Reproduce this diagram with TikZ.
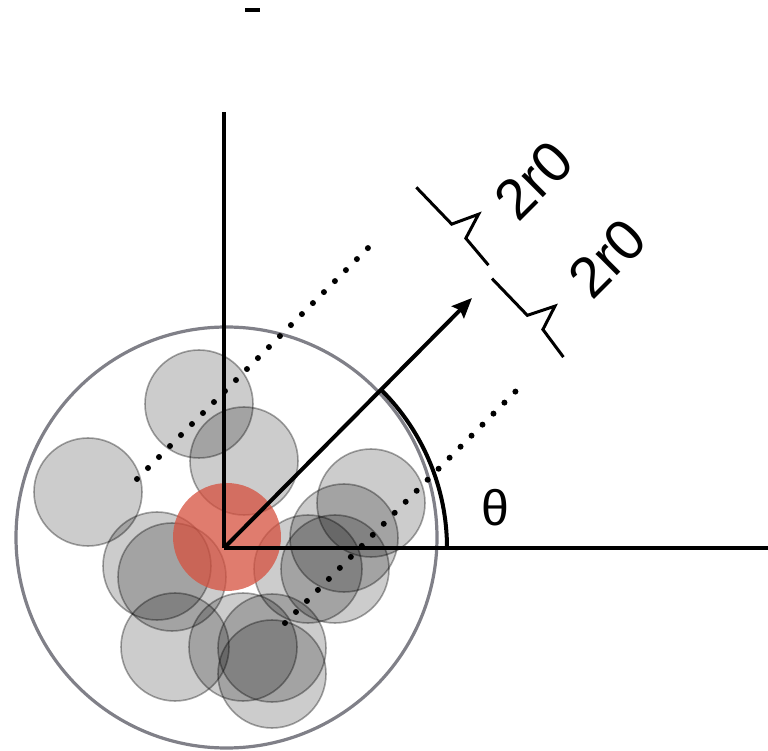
\documentclass[tikz,border=0pt]{standalone}
\usepackage{fontspec}
\setmainfont{Liberation Sans}
\usetikzlibrary{arrows.meta,positioning,calc}
\definecolor{rimGrey}{RGB}{128,128,136}
\definecolor{coreRed}{RGB}{214,80,62}

\begin{document}
\begin{tikzpicture}[x=1pt, y=1pt,
    axis/.style={line width=4pt, black},
    blob/.style={fill=black, fill opacity=0.2, draw=black, draw opacity=0.35, line width=1.6pt},
    dots/.style={line width=6pt, line cap=round, dash pattern=on 0pt off 15.55pt},
    brace/.style={line width=3pt, line join=miter},
    label/.style={font=\fontsize{57}{57}\selectfont, rotate=45, inner sep=0pt}
]
\useasboundingbox (0,0) rectangle (768,750);

% Origin and axis ends
\coordinate (O) at (224,202);
\coordinate (ytop) at (224,638);
\coordinate (xend) at (768,202);
\coordinate (tip) at (472,452);
\coordinate (arcStart) at (447,202);

% Outer sphere
\draw[rimGrey, line width=3.2pt] (226.5,212.5) circle[radius=210.5];

% Neighbour particles
\foreach \cx/\cy in {199/346, 244/289, 88/258, 157/184, 172/173, 175/103, 243/103,
    272/102, 272/76, 371/247, 344/212, 335/181, 308/181}
  \draw[blob] (\cx,\cy) circle[radius=54];

% Central particle
\fill[coreRed, fill opacity=0.75] (227,213) circle[radius=54];

% Dotted guides
\draw[dots] (137,271) -- (368,502);
\draw[dots] (285,127) -- (516,359);

% Axes, direction and angle
\draw[axis] (O) -- (ytop);
\draw[axis] (O) -- (xend);
\draw[axis, -{Stealth[length=20pt, width=17pt, inset=3pt]}] (O) -- (tip);
\draw[axis] (arcStart) arc[start angle=0, end angle=45, radius=223];
\node[font=\fontsize{50}{50}\selectfont, inner sep=0pt] (theta) at (495,242) {θ};

% Width marks
\begin{scope}[shift={(O)}, rotate=45]
\draw[brace] (391,119) -- (390,68) -- (416,56) -- (390,48) -- (387,13);
\draw[brace] (380,1) -- (379,-50) -- (405,-63) -- (380,-71) -- (375,-105);
\node[label] (lblA) at (479,41) {2r0};
\node[label] (lblB) at (476,-66) {2r0};
\end{scope}

% Cut-off mark at top
\draw[line width=4pt] (245,740) -- (260,740);
\end{tikzpicture}
\end{document}
